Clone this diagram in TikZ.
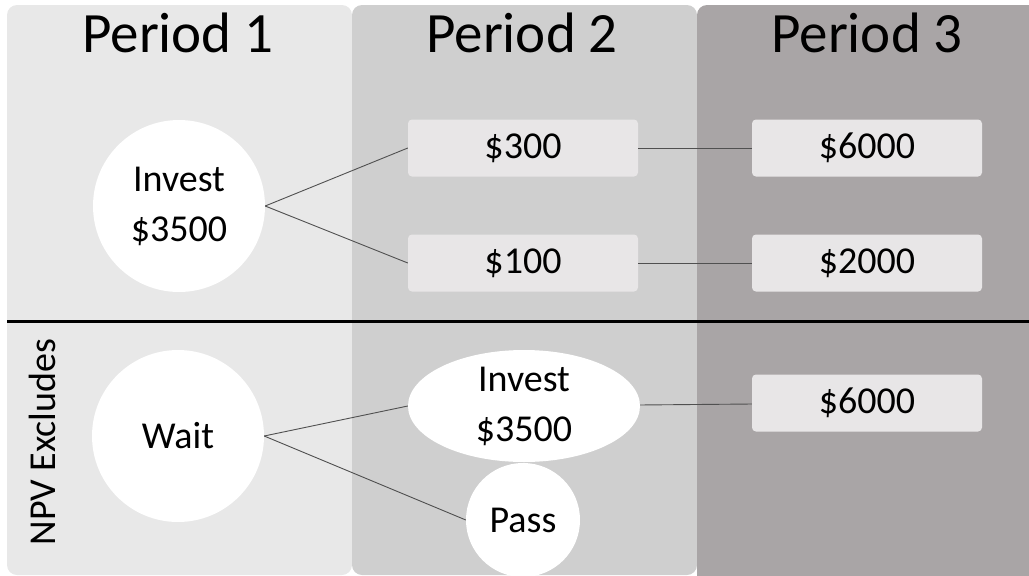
\documentclass[tikz,border=0pt]{standalone}
\usepackage{fontspec}
\setmainfont{Carlito}
\usetikzlibrary{shapes.geometric}
\definecolor{colA}{HTML}{E8E8E8}
\definecolor{colB}{HTML}{CFCFCF}
\definecolor{colC}{HTML}{A9A5A6}
\definecolor{boxfill}{HTML}{E8E6E7}
\definecolor{linkgray}{HTML}{505050}
\begin{document}
\begin{tikzpicture}[x=1pt, y=-1pt,
  every node/.style={font=\fontsize{38}{50}\selectfont, inner sep=0pt},
  panel/.style={rounded corners=10pt},
  title/.style={font=\fontsize{57}{68}\selectfont, anchor=base},
  choice/.style={circle, fill=white, align=center},
  oval/.style={ellipse, fill=white, align=center, minimum width=232pt, minimum height=112pt},
  valbox/.style={rectangle, rounded corners=4pt, fill=boxfill, minimum width=230pt, minimum height=57pt},
  link/.style={draw=linkgray, line width=0.9pt}]
\useasboundingbox (0,0) rectangle (1029,576);
% period columns
\fill[panel,colA] (7,5) rectangle (352,575);
\fill[panel,colB] (352,5) rectangle (697,575);
\fill[panel,colC] (697,5) rectangle (1045,590);
\node[title] (per1) at (178,52) {Period 1};
\node[title] (per2) at (522,52) {Period 2};
\node[title] (per3) at (867,52) {Period 3};
% divider
\coordinate (divl) at (7,321);
\coordinate (divr) at (1029,321);
\draw[line width=3pt] (divl) -- (divr);
\node[rotate=90, anchor=base] (npv) at (56,442) {NPV Excludes};
% upper tree
\node[choice, minimum size=172pt] (inv1) at (179,206) {Invest\\\$3500};
\node[valbox] (up2) at (523,148) {\$300};
\node[valbox] (dn2) at (523,263) {\$100};
\node[valbox] (up3) at (867,148) {\$6000};
\node[valbox] (dn3) at (867,263) {\$2000};
\draw[link] (inv1.east) -- (up2.west);
\draw[link] (inv1.east) -- (dn2.west);
\draw[link] (up2) -- (up3);
\draw[link] (dn2) -- (dn3);
% lower tree
\node[choice, minimum size=172pt] (wait) at (178,436) {Wait};
\node[oval] (inv2) at (524,406) {Invest\\\$3500};
\node[choice, minimum size=114pt] (pass) at (523,520) {Pass};
\node[valbox] (late3) at (867,403) {\$6000};
\draw[link] (wait.east) -- (inv2.west);
\draw[link] (wait.east) -- (pass.west);
\draw[link] (inv2) -- (late3);
\end{tikzpicture}
\end{document}
